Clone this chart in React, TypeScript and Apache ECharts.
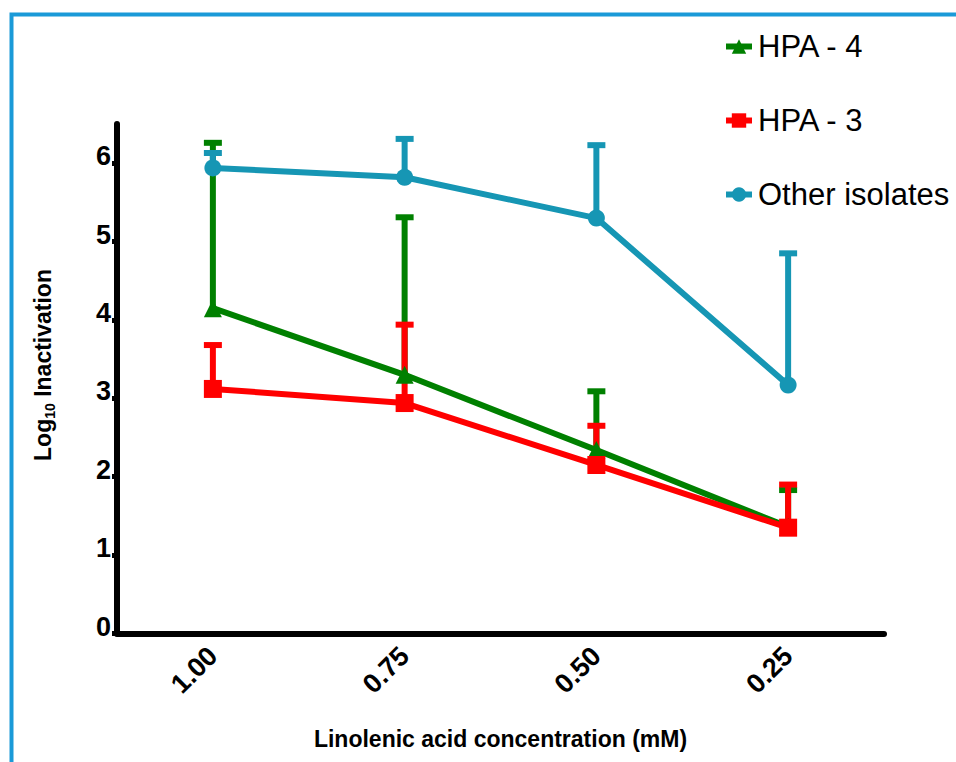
import React, { useEffect, useRef } from 'react';
import * as echarts from 'echarts';

const categories = ['1.00', '0.75', '0.50', '0.25'];
const yTicks = [0, 1, 2, 3, 4, 5, 6];

const hpa4 = [4.15, 3.3, 2.34, 1.36];
const hpa4Upper = [6.26, 5.31, 3.09, 1.83];
const hpa3 = [3.12, 2.94, 2.15, 1.35];
const hpa3Upper = [3.68, 3.94, 2.65, 1.9];
const others = [5.94, 5.82, 5.3, 3.17];
const othersUpper = [6.13, 6.31, 6.23, 4.85];

const GREEN = '#008000';
const RED = '#ff0000';
const TEAL = '#1696b4';
const FONT = "'Liberation Sans', Arial, sans-serif";

function errSeries(name: string, mean: number[], upper: number[], color: string) {
  return {
    type: 'custom',
    name,
    silent: true,
    data: mean.map((m, i) => [i, m, upper[i]]),
    encode: { x: 0, y: [1, 2] },
    renderItem: (_params: any, api: any) => {
      const base = api.coord([api.value(0), api.value(1)]);
      const top = api.coord([api.value(0), api.value(2)]);
      return {
        type: 'group',
        children: [
          {
            type: 'line',
            shape: { x1: base[0], y1: base[1], x2: top[0], y2: top[1] },
            style: { stroke: color, lineWidth: 6 },
          },
          {
            type: 'line',
            shape: { x1: top[0] - 9, y1: top[1], x2: top[0] + 9, y2: top[1] },
            style: { stroke: color, lineWidth: 6 },
          },
        ],
      };
    },
  };
}

function lineSeries(name: string, data: number[], color: string, symbol: string, size: number) {
  return {
    type: 'line',
    name,
    data,
    symbol,
    symbolSize: size,
    showAllSymbol: true,
    itemStyle: { color },
    lineStyle: { color, width: 6 },
  };
}

export default function App() {
  const ref = useRef<HTMLDivElement>(null);
  useEffect(() => {
    if (!ref.current) return;
    const chart = echarts.init(ref.current, null, { renderer: 'svg' });
    chart.setOption({
      animation: false,
      backgroundColor: '#ffffff',
      textStyle: { fontFamily: FONT },
      grid: { left: 117, right: 72, top: 124, bottom: 128.5, containLabel: false },
      legend: {
        orient: 'vertical',
        left: 718,
        top: 26,
        itemWidth: 26,
        itemHeight: 18,
        itemGap: 43,
        data: ['HPA - 4', 'HPA - 3', 'Other isolates'],
        lineStyle: { width: 6 },
        textStyle: { fontSize: 31, color: '#000', fontFamily: FONT, padding: [0, 0, 0, 1] },
      },
      xAxis: {
        type: 'category',
        data: categories,
        boundaryGap: true,
        name: 'Linolenic acid concentration (mM)',
        nameLocation: 'middle',
        nameGap: 94,
        nameTextStyle: { fontSize: 23, fontWeight: 'bold', color: '#000', fontFamily: FONT },
        axisLine: { lineStyle: { color: '#000', width: 6 } },
        axisTick: { alignWithLabel: true, length: 6, lineStyle: { color: '#000', width: 6 } },
        axisLabel: { rotate: 45, margin: 18, fontSize: 27, fontWeight: 'bold', color: '#000', fontFamily: FONT },
        splitLine: { show: false },
      },
      yAxis: {
        type: 'value',
        min: 0,
        max: 6.5,
        interval: 1,
        axisLine: { show: true, lineStyle: { color: '#000', width: 6 } },
        axisTick: { show: true, length: 5, customValues: yTicks, lineStyle: { color: '#000', width: 5 } },
        axisLabel: {
          customValues: yTicks,
          margin: 6,
          formatter: '{v|{value}}',
          rich: {
            v: {
              fontSize: 27,
              fontWeight: 'bold',
              color: '#000',
              fontFamily: FONT,
              padding: [0, 0, 14, 0],
            },
          },
        },
        splitLine: { show: false },
      },
      graphic: [
        {
          type: 'rect',
          left: 9,
          top: 12,
          shape: { width: 1000, height: 800 },
          style: { fill: 'none', stroke: '#1a9ad8', lineWidth: 4 },
          silent: true,
        },
        {
          type: 'text',
          x: 43,
          y: 365,
          rotation: Math.PI / 2,
          style: {
            text: '{a|Log}{b|10}{a| Inactivation}',
            align: 'center',
            verticalAlign: 'middle',
            fill: '#000',
            rich: {
              a: { fontSize: 23, fontWeight: 'bold', fontFamily: FONT, lineHeight: 27, fill: '#000' },
              b: { fontSize: 14, fontWeight: 'bold', fontFamily: FONT, lineHeight: 15, verticalAlign: 'bottom', fill: '#000' },
            },
          },
        },
      ],
      series: [
        errSeries('HPA - 4 error', hpa4, hpa4Upper, GREEN),
        lineSeries('HPA - 4', hpa4, GREEN, 'triangle', 18),
        errSeries('HPA - 3 error', hpa3, hpa3Upper, RED),
        lineSeries('HPA - 3', hpa3, RED, 'rect', 18),
        errSeries('Other isolates error', others, othersUpper, TEAL),
        lineSeries('Other isolates', others, TEAL, 'circle', 17),
      ],
    });
    return () => chart.dispose();
  }, []);
  return (
    <div
      ref={ref}
      style={{ position: 'fixed', left: 0, top: 0, width: 956, height: 762, background: '#fff' }}
    />
  );
}
